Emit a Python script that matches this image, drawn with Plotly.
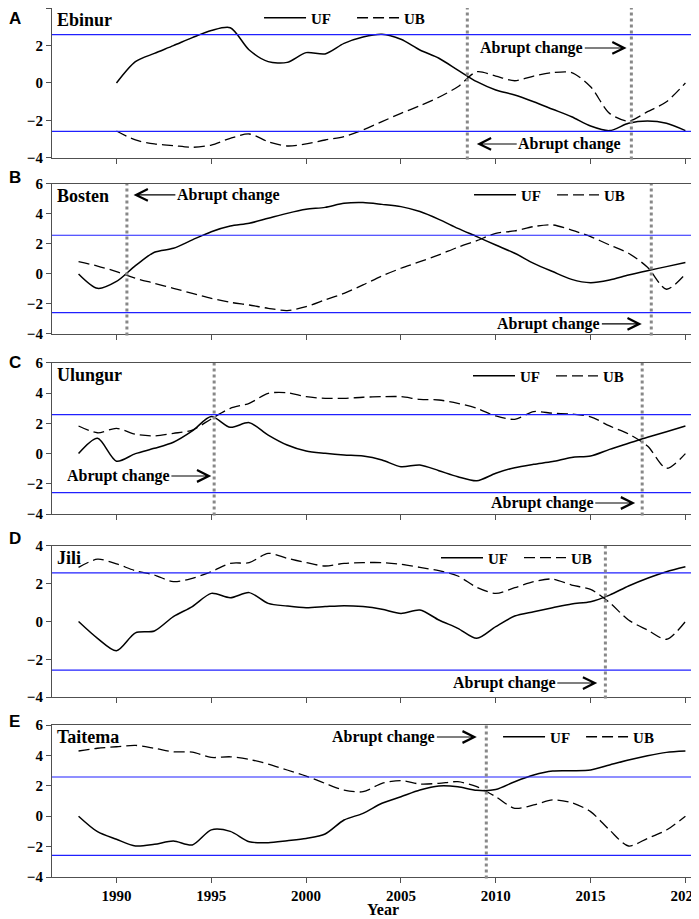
#import packages
import plotly.graph_objects as go
from plotly.subplots import make_subplots

#data (Mann-Kendall UF / UB statistics)
years = list(range(1988, 2021))
years_ebinur = list(range(1990, 2021))

ebinur_uf = [0.0, 1.14, 1.58, 1.99, 2.42, 2.8, 2.95, 1.76, 1.14, 1.1, 1.62, 1.55, 2.11, 2.45, 2.6, 2.33,
             1.76, 1.32, 0.69, 0.07, -0.37, -0.64, -1.0, -1.4, -1.8, -2.29, -2.54, -2.15, -2.03, -2.15, -2.54]
ebinur_ub = [-2.56, -3.04, -3.25, -3.34, -3.43, -3.31, -2.95, -2.72, -3.13, -3.36, -3.25, -3.04, -2.86, -2.5,
             -2.06, -1.62, -1.21, -0.76, -0.2, 0.6, 0.37, 0.12, 0.37, 0.55, 0.55, -0.2, -1.62, -2.03, -1.53,
             -1.0, 0.0]

bosten_uf = [0.0, -0.96, -0.5, 0.55, 1.45, 1.71, 2.27, 2.82, 3.2, 3.38, 3.71, 4.04, 4.31, 4.44, 4.71, 4.76,
             4.64, 4.49, 4.16, 3.64, 3.04, 2.49, 1.93, 1.38, 0.71, 0.16, -0.36, -0.58, -0.4, -0.07, 0.22,
             0.49, 0.76]
bosten_ub = [0.82, 0.53, 0.16, -0.29, -0.62, -0.96, -1.29, -1.62, -1.89, -2.07, -2.29, -2.44, -2.18, -1.73,
             -1.29, -0.73, -0.13, 0.38, 0.82, 1.27, 1.78, 2.22, 2.71, 2.87, 3.16, 3.27, 2.93, 2.49, 1.93,
             1.38, 0.45, -1.02, 0.0]

ulungur_uf = [0.0, 1.01, -0.5, 0.0, 0.35, 0.75, 1.5, 2.45, 1.74, 2.05, 1.23, 0.57, 0.17, 0.02, -0.09, -0.16,
              -0.42, -0.87, -0.75, -1.13, -1.53, -1.8, -1.3, -0.93, -0.71, -0.53, -0.25, -0.16, 0.28, 0.68,
              1.08, 1.45, 1.83]
ulungur_ub = [1.83, 1.38, 1.67, 1.28, 1.17, 1.34, 1.56, 2.3, 3.0, 3.33, 3.99, 4.03, 3.77, 3.66, 3.66, 3.73,
              3.77, 3.77, 3.59, 3.55, 3.33, 3.0, 2.49, 2.27, 2.78, 2.67, 2.62, 2.44, 1.83, 1.3, 0.5, -0.97, 0.0]

jili_uf = [0.0, -0.89, -1.55, -0.6, -0.5, 0.26, 0.79, 1.49, 1.26, 1.53, 0.96, 0.82, 0.73, 0.79, 0.84, 0.79,
           0.65, 0.43, 0.61, 0.08, -0.36, -0.89, -0.27, 0.29, 0.52, 0.73, 0.93, 1.05, 1.4, 1.88, 2.29, 2.64, 2.9]
jili_ub = [2.87, 3.3, 3.05, 2.69, 2.46, 2.11, 2.29, 2.64, 3.08, 3.12, 3.61, 3.35, 3.12, 2.94, 3.08, 3.12,
           3.12, 3.03, 2.87, 2.69, 2.41, 1.81, 1.49, 1.79, 2.11, 2.25, 1.93, 1.7, 1.0, 0.08, -0.45, -0.94, 0.0]

taitema_uf = [0.0, -1.02, -1.52, -1.96, -1.85, -1.63, -1.89, -0.9, -1.0, -1.68, -1.74, -1.61, -1.46, -1.17,
              -0.25, 0.19, 0.85, 1.28, 1.72, 1.99, 1.94, 1.7, 1.75, 2.27, 2.71, 2.97, 2.99, 3.04, 3.37, 3.7,
              3.98, 4.2, 4.29]
taitema_ub = [4.29, 4.47, 4.57, 4.66, 4.47, 4.24, 4.22, 3.87, 3.91, 3.74, 3.43, 3.04, 2.64, 2.16, 1.72, 1.61,
              2.16, 2.34, 2.12, 2.16, 2.27, 1.94, 1.28, 0.52, 0.74, 1.07, 0.89, 0.3, -0.91, -1.96, -1.46,
              -0.91, 0.0]

lakes = ['Ebinur', 'Bosten', 'Ulungur', 'Jili', 'Taitema']
letters = ['A', 'B', 'C', 'D', 'E']
x_years = [years_ebinur, years, years, years, years]
uf_all = [ebinur_uf, bosten_uf, ulungur_uf, jili_uf, taitema_uf]
ub_all = [ebinur_ub, bosten_ub, ulungur_ub, jili_ub, taitema_ub]
abrupt_years = [[2008.5, 2017.15], [1990.55, 2018.2], [1995.15, 2017.72], [2015.78], [2009.5]]
y_ranges = [[-4, 4], [-4, 6], [-4, 6], [-4, 4], [-4, 6]]
crit = 2.58

#annotation spots: (text x, text y, arrow head x)
arrow_notes = [
    [(2013.9, -3.25, 2009.0), (2011.9, 1.87, 2016.9)],
    [(1995.9, 5.27, 1990.9), (2012.8, -3.33, 2017.7)],
    [(1990.1, -1.48, 1995.0), (2012.45, -3.27, 2017.35)],
    [(2010.45, -3.26, 2015.35)],
    [(2004.1, 5.21, 2009.0)],
]

#layout helpers (page body adds an 8px offset, so the figure is 8px smaller)
fig_w, fig_h = 691, 911
domains = [(0.8274, 1.0), (0.6249, 0.7975), (0.4177, 0.5915), (0.2071, 0.3809), (0.0, 0.1749)]
#legend spots in container fractions (so they do not push the margins)
legend_pos = [(0.3633, 0.989), (0.6672, 0.7947), (0.6657, 0.596), (0.6194, 0.3963), (0.7092, 0.1998)]
legend_step = [36, 26, 26, 26, 26]
letter_y = [1.0, 0.8044, 0.5926, 0.389, 0.1784]
letter_anchor = ['top', 'middle', 'middle', 'middle', 'middle']

serif = 'Times New Roman, Liberation Serif, serif'
axis_col = '#505050'

fig = make_subplots(rows=5, cols=1)

for i in range(5):
    row = i + 1
    leg = 'legend' if i == 0 else 'legend%d' % row
    fig.add_trace(go.Scatter(x=x_years[i], y=uf_all[i], name='UF', mode='lines', legend=leg,
                             line=dict(color='black', width=1.5, shape='spline', smoothing=0.8)),
                  row=row, col=1)
    fig.add_trace(go.Scatter(x=x_years[i], y=ub_all[i], name='UB', mode='lines', legend=leg,
                             line=dict(color='black', width=1.3, dash='11px,5px', shape='spline',
                                       smoothing=0.8)),
                  row=row, col=1)

    #significance lines
    for c in (crit, -crit):
        fig.add_hline(y=c, line=dict(color='#2020ff', width=1.2), row=row, col=1)

    #abrupt change years
    xr = 'x' if i == 0 else 'x%d' % row
    yr = 'y' if i == 0 else 'y%d' % row
    for yr_ in abrupt_years[i]:
        fig.add_shape(type='line', x0=yr_, x1=yr_, y0=-0.01, y1=1, xref=xr, yref=yr + ' domain',
                      line=dict(color='#888888', width=3, dash='dot'))

    for tx, ty, hx in arrow_notes[i]:
        fig.add_annotation(x=hx, y=ty, ax=tx, ay=ty, xref=xr, yref=yr, axref=xr, ayref=yr,
                           text='Abrupt change', showarrow=True, arrowhead=5, arrowsize=2.1,
                           arrowwidth=1.1, arrowcolor='black',
                           font=dict(family=serif, size=16, color='black', weight='bold'))

    #lake name
    fig.add_annotation(x=0.005, y=0.92, xref=xr + ' domain', yref=yr + ' domain', text=lakes[i],
                       showarrow=False, xanchor='left', yanchor='middle',
                       font=dict(family=serif, size=18, color='black', weight='bold'))
    #panel letter
    fig.add_annotation(x=-0.0686, y=letter_y[i], xref='paper', yref='paper', text=letters[i],
                       showarrow=False, xanchor='left', yanchor=letter_anchor[i], borderpad=0,
                       font=dict(family='Liberation Sans, Arial', size=17, color='black', weight='bold'))

    fig.update_xaxes(range=[1986.6, 2020.4], tick0=1990, dtick=5, ticks='outside', ticklen=5,
                     tickcolor=axis_col, showline=True, linecolor=axis_col, linewidth=1.2, mirror=True,
                     showgrid=False, zeroline=False, showticklabels=(row == 5),
                     ticklabeloverflow='allow',
                     tickfont=dict(family=serif, size=15, color='black', weight='bold'),
                     row=row, col=1)
    fig.update_yaxes(range=y_ranges[i], dtick=2, ticks='outside', ticklen=5, tickcolor=axis_col,
                     showline=True, linecolor=axis_col, linewidth=1.2, mirror=True, showgrid=False,
                     zeroline=False, domain=list(domains[i]),
                     tickfont=dict(family=serif, size=15, color='black', weight='bold'),
                     row=row, col=1)

    lx, ly = legend_pos[i]
    fig.update_layout({leg: dict(orientation='h', x=lx, y=ly, xref='container', yref='container',
                                 xanchor='left', yanchor='middle', itemwidth=42,
                                 bgcolor='rgba(0,0,0,0)', entrywidth=legend_step[i], tracegroupgap=0,
                                 font=dict(family=serif, size=15, color='black', weight='bold'))})

#x axis title
fig.add_annotation(x=0.516, y=-0.037, xref='paper', yref='paper', text='Year', showarrow=False,
                   xanchor='center', yanchor='middle',
                   font=dict(family=serif, size=16, color='black', weight='bold'))

fig.update_layout(width=fig_w, height=fig_h, margin=dict(t=0, l=44, r=6, b=42, autoexpand=False),
                  plot_bgcolor='white', paper_bgcolor='white', showlegend=True)

fig.write_html("out.html")
